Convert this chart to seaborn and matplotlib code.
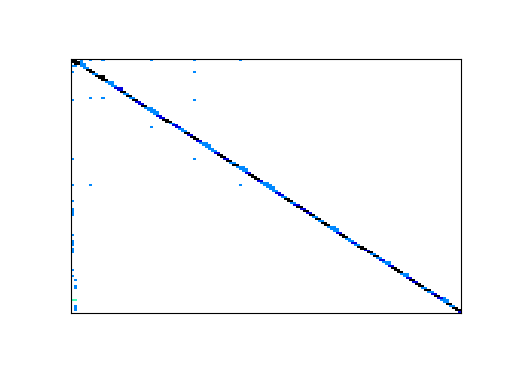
import numpy as np
import pandas as pd
import matplotlib
matplotlib.use("Agg")
import matplotlib.pyplot as plt
from matplotlib.colors import ListedColormap
import seaborn as sns

N = 128
# colour codes: A=1 aquamarine, B=2 bright blue, D=3 dark blue, K=4 black
code_values = {"A": 1, "B": 2, "D": 3, "K": 4}
palette = ["#40ffb8", "#0088ff", "#0000dd", "#000000"]

# colour of the diagonal band in each row (rows 0..127), 16 rows per chunk
diag_codes = list(
    "KKKBBKKBKKKBBBDD"
    "KBKBKDDKBBBBDDKK"
    "BDDBBKDKKDBBBBBD"
    "KKDKBKBBBDKKKDBB"
    "BBBDDBKKBDKDKDKB"
    "KBKKBBBDKKBBDBKK"
    "DKBKBDBBDKKKBBDK"
    "DKKBKBDKDBBKBKKD"
)

# extra entries next to the diagonal (row, col, code)
near_diag = [
    (0, 1, "K"), (1, 0, "K"), (1, 2, "K"), (2, 1, "K"),
    (0, 3, "B"), (1, 3, "B"), (2, 3, "B"), (2, 4, "B"),
    (8, 10, "K"), (11, 13, "B"), (14, 16, "D"),
    (24, 26, "B"), (25, 27, "B"), (26, 28, "B"),
    (42, 44, "B"), (43, 45, "B"), (54, 56, "B"), (55, 57, "B"),
    (62, 64, "B"), (63, 65, "B"), (64, 66, "B"),
    (84, 86, "B"), (85, 87, "B"),
    (102, 104, "B"), (108, 110, "B"),
    (120, 122, "B"), (121, 123, "B"),
]

# scattered entries away from the diagonal (row, col, code)
off_diag = [
    (0, 6, "B"), (0, 10, "B"), (0, 26, "B"), (0, 40, "B"), (0, 55, "B"),
    (3, 0, "B"), (3, 1, "B"),
    (6, 0, "B"), (6, 40, "B"),
    (19, 6, "B"), (19, 10, "B"), (20, 0, "B"), (20, 40, "B"),
    (34, 26, "B"),
    (50, 0, "B"), (50, 40, "B"),
    (63, 0, "B"), (63, 6, "B"), (63, 55, "B"),
    (71, 0, "B"), (75, 0, "B"), (76, 0, "B"), (77, 0, "B"), (78, 0, "B"),
    (88, 0, "B"), (91, 0, "B"), (92, 0, "B"), (93, 0, "B"),
    (95, 0, "B"), (96, 0, "B"), (97, 0, "B"),
    (106, 0, "B"), (109, 0, "B"), (111, 1, "B"),
    (114, 1, "B"), (115, 1, "B"),
    (121, 0, "A"), (121, 1, "A"),
    (124, 1, "B"), (125, 1, "B"), (126, 1, "B"),
]

M = np.zeros((N, N))
for i, c in enumerate(diag_codes[:N]):
    M[i, i] = code_values[c]
    if i + 1 < N:
        M[i, i + 1] = code_values[c]
for r, c, k in near_diag + off_diag:
    M[r, c] = code_values[k]

df = pd.DataFrame(M)

fig = plt.figure(figsize=(6.4, 4.8), dpi=80)
ax = fig.add_axes([71 / 512, (384 - 313) / 384, 390 / 512, 254 / 384])
sns.heatmap(df, mask=(df == 0), cmap=ListedColormap(palette), vmin=0.5, vmax=4.5,
            cbar=False, xticklabels=False, yticklabels=False, ax=ax,
            rasterized=True)
ax.set_aspect("auto")
ax.set_xlabel("")
ax.set_ylabel("")
ax.tick_params(left=False, bottom=False)
for s in ax.spines.values():
    s.set_visible(True)
    s.set_color("black")
    s.set_linewidth(1.0)
fig.savefig("out.png", dpi=80, facecolor="white")
